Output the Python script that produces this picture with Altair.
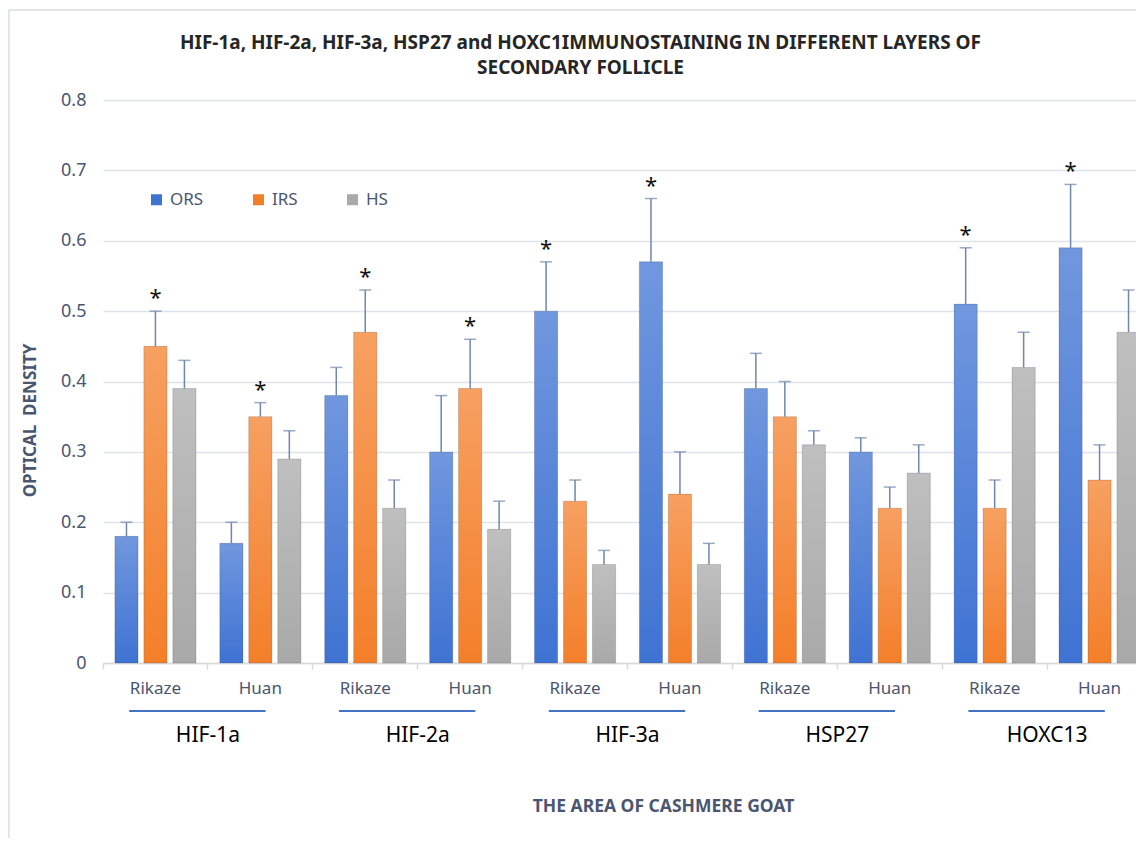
import altair as alt
import pandas as pd

# ---------------- data ----------------
genes = ["HIF-1a", "HIF-2a", "HIF-3a", "HSP27", "HOXC13"]
areas = ["Rikaze", "Huan"]
layers = ["ORS", "IRS", "HS"]

ors_mean = [0.18, 0.17, 0.38, 0.30, 0.50, 0.57, 0.39, 0.30, 0.51, 0.59]
ors_upper = [0.20, 0.20, 0.42, 0.38, 0.57, 0.66, 0.44, 0.32, 0.59, 0.68]
irs_mean = [0.45, 0.35, 0.47, 0.39, 0.23, 0.24, 0.35, 0.22, 0.22, 0.26]
irs_upper = [0.50, 0.37, 0.53, 0.46, 0.26, 0.30, 0.40, 0.25, 0.26, 0.31]
hs_mean = [0.39, 0.29, 0.22, 0.19, 0.14, 0.14, 0.31, 0.27, 0.42, 0.47]
hs_upper = [0.43, 0.33, 0.26, 0.23, 0.16, 0.17, 0.33, 0.31, 0.47, 0.53]

ors_star = [False, False, False, False, True, True, False, False, True, True]
irs_star = [True, True, True, True, False, False, False, False, False, False]
hs_star = [False] * 10

y_ticks = [0, 0.1, 0.2, 0.3, 0.4, 0.5, 0.6, 0.7, 0.8]

title_lines = [
    "HIF-1a, HIF-2a, HIF-3a, HSP27 and HOXC1IMMUNOSTAINING IN DIFFERENT LAYERS OF",
    "SECONDARY FOLLICLE",
]
x_title = "THE AREA OF CASHMERE GOAT"
y_title = "OPTICAL\u00a0 DENSITY"

layer_colors = ["#3f73d3", "#f47f2a", "#a9a9a9"]
err_color = "#7086ab"
text_color = "#4a5670"
FONT = "Noto Sans"

# ---------------- tables ----------------
cats = [f"{g} {a}" for g in genes for a in areas]
rows = []
for name, means, uppers, stars in [
    ("ORS", ors_mean, ors_upper, ors_star),
    ("IRS", irs_mean, irs_upper, irs_star),
    ("HS", hs_mean, hs_upper, hs_star),
]:
    for i, c in enumerate(cats):
        rows.append(dict(cat=c, layer=name, mean=means[i], upper=uppers[i],
                         star="*" if stars[i] else ""))
df = pd.DataFrame(rows)

gene_df = pd.DataFrame({
    "gene": genes,
    "rcat": [f"{g} Rikaze" for g in genes],
    "hcat": [f"{g} Huan" for g in genes],
})

x_scale = alt.Scale(domain=cats, range=[0, 1049], paddingInner=0, paddingOuter=0)
off_scale = alt.Scale(domain=layers, paddingInner=0.2, paddingOuter=0.41)
y_scale = alt.Scale(domain=[0, 0.8], nice=False)

x_axis = alt.Axis(
    labelExpr="split(datum.label, ' ')[1]",
    bandPosition=0,
    labelAngle=0,
    tickSize=6,
    tickColor="#d9d9d9",
    tickWidth=1.5,
    domainColor="#d9d9d9",
    domainWidth=1.5,
    labelFontSize=17,
    labelFont=FONT,
    labelColor=text_color,
    labelPadding=19,
    labelBaseline="middle",
    grid=False,
    title=x_title,
    titleFont=FONT,
    titleFontSize=17.5,
    titleFontWeight="bold",
    titleColor=text_color,
    titleX=560,
    titleY=143,
    titleBaseline="middle",
    titleAlign="center",
)

y_axis = alt.Axis(
    values=y_ticks,
    labelExpr="datum.value == 0 ? '0' : format(datum.value, '.1f')",
    domain=False,
    ticks=False,
    grid=True,
    gridColor="#dfe3ea",
    gridWidth=1.5,
    labelFontSize=18,
    labelFont=FONT,
    labelColor=text_color,
    labelPadding=17,
    title=y_title,
    titleFont=FONT,
    titleFontSize=17,
    titleFontWeight="bold",
    titleColor=text_color,
    titleAngle=270,
    titleX=-73,
    titleY=320,
    titleAlign="center",
    titleBaseline="middle",
)

XO = alt.XOffset("layer:N", scale=off_scale, sort=layers)

base = alt.Chart(df)

bars = base.mark_bar().encode(
    x=alt.X("cat:N", scale=x_scale, axis=x_axis, title=x_title),
    xOffset=XO,
    y=alt.Y("mean:Q", scale=y_scale, axis=y_axis, title=y_title),
    color=alt.Color(
        "layer:N",
        scale=alt.Scale(domain=layers, range=layer_colors),
        sort=layers,
        legend=alt.Legend(
            title=None,
            orient="none",
            direction="horizontal",
            legendX=45,
            legendY=91,
            symbolType="square",
            symbolSize=121,
            symbolStrokeWidth=0,
            labelFontSize=17,
            labelFont=FONT,
            labelColor=text_color,
            columnPadding=46,
            labelOffset=5,
            padding=0,
        ),
    ),
)

X_plain = alt.X("cat:N", title=x_title)

shade = base.mark_bar(
    color=alt.Gradient(
        gradient="linear",
        stops=[
            alt.GradientStop(color="rgba(255,255,255,0.26)", offset=0),
            alt.GradientStop(color="rgba(255,255,255,0.0)", offset=1),
        ],
        x1=0, x2=0, y1=0, y2=1,
    ),
    stroke="rgba(0,0,0,0.18)",
    strokeWidth=0.8,
).encode(
    x=X_plain,
    xOffset=XO,
    y=alt.Y("mean:Q", title=y_title),
)

err = base.mark_rule(color=err_color, strokeWidth=1.5).encode(
    x=X_plain,
    xOffset=XO,
    y=alt.Y("mean:Q", title=y_title),
    y2="upper:Q",
)

caps = base.mark_tick(color=err_color, thickness=1.5, size=12).encode(
    x=X_plain,
    xOffset=XO,
    y=alt.Y("upper:Q", title=y_title),
)

stars = base.transform_filter("datum.star != ''").mark_text(
    fontSize=22, font=FONT, color="#111111", baseline="alphabetic", dy=-6
).encode(
    x=X_plain,
    xOffset=XO,
    y=alt.Y("upper:Q", title=y_title),
    text="star:N",
)

gene_base = alt.Chart(gene_df)

underline = gene_base.mark_rule(color="#4472c4", strokeWidth=2).encode(
    x=alt.X("rcat:N", bandPosition=0.25, title=x_title),
    x2=alt.X2("hcat:N", bandPosition=0.55),
    y=alt.value(611),
)

gene_text = gene_base.mark_text(
    fontSize=21, font=FONT, color="#000000", baseline="middle", align="center"
).encode(
    x=alt.X("hcat:N", bandPosition=0, title=x_title),
    y=alt.value(636),
    text="gene:N",
)

# light outer chart-area frame (left and top edges)
frame_df = pd.DataFrame({"k": [0]})
frame_left = alt.Chart(frame_df).mark_rule(color="#d9dde5", strokeWidth=1.5).encode(
    x=alt.value(-94), y=alt.value(-90), y2=alt.value(760)
)
frame_top = alt.Chart(frame_df).mark_rule(color="#d9dde5", strokeWidth=1.5).encode(
    x=alt.value(-94), x2=alt.value(1100), y=alt.value(-90)
)

chart = alt.layer(
    bars, shade, err, caps, stars, underline, gene_text, frame_left, frame_top
).properties(
    width=1033,
    height=563,
    autosize=alt.AutoSizeParams(type="none"),
    padding={"left": 95, "top": 92, "right": 0, "bottom": 175},
    title=alt.Title(
        title_lines,
        font=FONT,
        fontSize=19,
        fontWeight="bold",
        color="#262626",
        lineHeight=25,
        offset=-69,
        dx=-39,
        anchor="middle",
    ),
).configure(background="white", view=alt.ViewConfig(stroke=None))

chart.save("out.html", embed_options={"renderer": "svg", "actions": False})
